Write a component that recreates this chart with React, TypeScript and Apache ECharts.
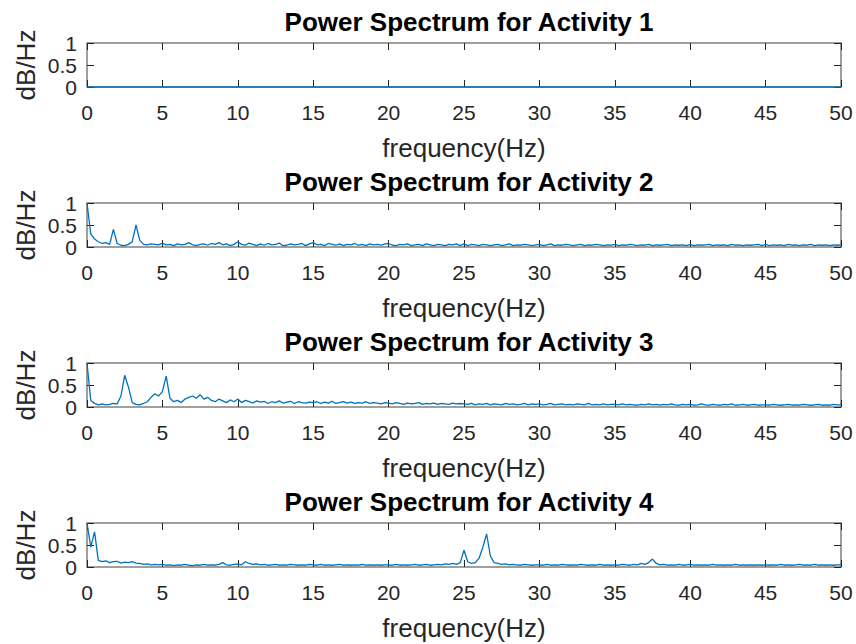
import React, { useEffect, useRef } from "react";
import * as echarts from "echarts";

const titles = [
  "Power Spectrum for Activity 1",
  "Power Spectrum for Activity 2",
  "Power Spectrum for Activity 3",
  "Power Spectrum for Activity 4",
];
const xTitle = "frequency(Hz)";
const yTitle = "dB/Hz";
const FREQ_STEP = 0.25;

const act1Freq = [0, 50];
const act1 = [0, 0];

const act2 = [
  1.0,0.30,0.18,0.12,0.08,0.10,0.06,0.40,0.08,0.04,0.03,0.06,0.12,0.50,0.15,0.06,0.05,0.07,0.06,0.05,
  0.09,0.05,0.06,0.03,0.07,0.05,0.06,0.10,0.05,0.03,0.06,0.07,0.04,0.08,0.06,0.10,0.05,0.07,0.03,0.06,
  0.12,0.06,0.04,0.09,0.06,0.03,0.07,0.04,0.08,0.05,0.06,0.09,0.03,0.04,0.07,0.05,0.06,0.08,0.03,0.07,
  0.10,0.05,0.06,0.03,0.08,0.06,0.04,0.07,0.03,0.06,0.05,0.08,0.04,0.06,0.03,0.07,0.05,0.06,0.04,0.07,
  0.08,0.04,0.03,0.06,0.05,0.07,0.03,0.05,0.06,0.03,0.07,0.05,0.03,0.06,0.05,0.03,0.06,0.05,0.07,0.03,
  0.07,0.03,0.06,0.05,0.03,0.06,0.05,0.03,0.05,0.06,0.03,0.05,0.07,0.03,0.05,0.04,0.06,0.05,0.03,0.05,
  0.06,0.03,0.05,0.07,0.03,0.05,0.04,0.06,0.05,0.03,0.05,0.06,0.03,0.05,0.04,0.06,0.05,0.03,0.05,0.04,
  0.06,0.03,0.05,0.04,0.06,0.05,0.03,0.05,0.04,0.06,0.03,0.05,0.04,0.05,0.06,0.03,0.05,0.04,0.05,0.03,
  0.06,0.03,0.05,0.04,0.05,0.06,0.03,0.05,0.04,0.05,0.03,0.06,0.04,0.05,0.03,0.05,0.04,0.05,0.06,0.03,
  0.06,0.03,0.05,0.04,0.05,0.03,0.06,0.04,0.05,0.03,0.05,0.04,0.06,0.03,0.05,0.04,0.05,0.03,0.05,0.04,
  0.05,
];

const act3 = [
  1.0,0.15,0.08,0.05,0.07,0.05,0.06,0.08,0.07,0.25,0.72,0.45,0.10,0.06,0.05,0.08,0.12,0.22,0.30,0.25,
  0.35,0.70,0.20,0.12,0.15,0.10,0.18,0.22,0.25,0.20,0.28,0.18,0.22,0.15,0.12,0.18,0.14,0.10,0.16,0.12,
  0.18,0.10,0.15,0.12,0.09,0.14,0.11,0.13,0.08,0.12,0.10,0.14,0.09,0.11,0.13,0.08,0.12,0.10,0.09,0.11,
  0.10,0.12,0.08,0.11,0.09,0.13,0.08,0.10,0.12,0.09,0.11,0.08,0.10,0.09,0.12,0.08,0.10,0.09,0.07,0.10,
  0.09,0.07,0.10,0.08,0.06,0.09,0.07,0.08,0.10,0.06,0.08,0.07,0.09,0.06,0.08,0.07,0.06,0.09,0.07,0.08,
  0.07,0.06,0.08,0.05,0.07,0.06,0.08,0.05,0.07,0.06,0.05,0.08,0.06,0.07,0.05,0.06,0.08,0.05,0.07,0.06,
  0.07,0.05,0.06,0.08,0.05,0.06,0.07,0.05,0.06,0.05,0.07,0.06,0.05,0.08,0.05,0.06,0.05,0.07,0.05,0.06,
  0.06,0.05,0.07,0.05,0.06,0.05,0.04,0.06,0.05,0.07,0.05,0.06,0.04,0.06,0.05,0.07,0.05,0.04,0.06,0.05,
  0.06,0.04,0.05,0.07,0.05,0.04,0.06,0.05,0.04,0.06,0.05,0.07,0.04,0.05,0.06,0.04,0.05,0.06,0.04,0.05,
  0.05,0.04,0.06,0.05,0.04,0.05,0.06,0.04,0.05,0.04,0.06,0.05,0.04,0.05,0.06,0.04,0.05,0.04,0.06,0.05,
  0.05,
];

const act4 = [
  1.0,0.45,0.80,0.15,0.12,0.14,0.10,0.12,0.13,0.09,0.11,0.10,0.12,0.09,0.08,0.06,0.07,0.05,0.06,0.05,
  0.06,0.04,0.05,0.03,0.05,0.04,0.06,0.04,0.03,0.05,0.04,0.06,0.04,0.05,0.04,0.06,0.10,0.05,0.04,0.06,
  0.07,0.05,0.12,0.08,0.06,0.07,0.05,0.06,0.04,0.05,0.06,0.04,0.05,0.04,0.06,0.05,0.04,0.05,0.04,0.06,
  0.05,0.04,0.06,0.04,0.05,0.04,0.05,0.06,0.04,0.05,0.04,0.05,0.04,0.06,0.04,0.05,0.04,0.05,0.04,0.05,
  0.05,0.04,0.06,0.04,0.05,0.04,0.05,0.06,0.04,0.05,0.06,0.04,0.05,0.06,0.05,0.07,0.06,0.08,0.06,0.10,
  0.38,0.12,0.08,0.10,0.20,0.45,0.75,0.25,0.10,0.08,0.06,0.07,0.05,0.06,0.05,0.04,0.06,0.05,0.04,0.05,
  0.05,0.04,0.06,0.04,0.05,0.04,0.06,0.05,0.04,0.05,0.04,0.06,0.05,0.04,0.05,0.04,0.06,0.04,0.05,0.04,
  0.05,0.04,0.06,0.05,0.04,0.06,0.05,0.08,0.06,0.10,0.18,0.08,0.05,0.06,0.04,0.05,0.04,0.06,0.04,0.05,
  0.06,0.04,0.05,0.04,0.05,0.04,0.06,0.04,0.05,0.04,0.05,0.04,0.06,0.04,0.05,0.04,0.05,0.04,0.05,0.04,
  0.05,0.04,0.05,0.04,0.06,0.04,0.05,0.04,0.05,0.06,0.04,0.05,0.04,0.06,0.04,0.05,0.04,0.05,0.04,0.05,
  0.05,
];

const FONT = "'Liberation Sans', Arial, Helvetica, sans-serif";
const TXT = "#262626";
const LINE = "#0072BD";

export default function App() {
  const ref = useRef<HTMLDivElement>(null);
  useEffect(() => {
    document.body.style.margin = "0";
    if (!ref.current) return;
    const chart = echarts.init(ref.current, null, { renderer: "svg" });

    const seriesData = [
      act1Freq.map((f, i) => [f, act1[i]]),
      act2.map((v, i) => [i * FREQ_STEP, v]),
      act3.map((v, i) => [i * FREQ_STEP, v]),
      act4.map((v, i) => [i * FREQ_STEP, v]),
    ];

    const left = 87;
    const right = 15;
    const gridTop0 = 43;
    const gridH = 44;
    const pitch = 160;
    const plotCx = left + (856 - left - right) / 2;

    const grids: any[] = [];
    const xAxes: any[] = [];
    const yAxes: any[] = [];
    const series: any[] = [];
    const titleArr: any[] = [];
    const graphics: any[] = [];

    const mkTick = () => ({ show: true, inside: true, length: 7, lineStyle: { color: TXT, width: 1 } });
    const noLine = () => ({ show: false, onZero: false });

    for (let i = 0; i < 4; i++) {
      const top = gridTop0 + pitch * i;
      grids.push({
        left,
        right,
        top,
        height: gridH,
        show: true,
        borderColor: "#808080",
        borderWidth: 1.5,
        backgroundColor: "transparent",
      });
      xAxes.push({
        type: "value",
        gridIndex: i,
        position: "bottom",
        min: 0,
        max: 50,
        interval: 5,
        axisLine: noLine(),
        axisTick: mkTick(),
        splitLine: { show: false },
        axisLabel: { color: TXT, fontSize: 21, fontFamily: FONT, margin: 15 },
      });
      xAxes.push({
        type: "value",
        gridIndex: i,
        position: "top",
        min: 0,
        max: 50,
        interval: 5,
        axisLine: noLine(),
        axisTick: mkTick(),
        splitLine: { show: false },
        axisLabel: { show: false },
      });
      yAxes.push({
        type: "value",
        gridIndex: i,
        position: "left",
        min: 0,
        max: 1,
        interval: 0.5,
        axisLine: noLine(),
        axisTick: mkTick(),
        splitLine: { show: false },
        axisLabel: { color: TXT, fontSize: 21, fontFamily: FONT, margin: 10 },
      });
      yAxes.push({
        type: "value",
        gridIndex: i,
        position: "right",
        min: 0,
        max: 1,
        interval: 0.5,
        axisLine: noLine(),
        axisTick: mkTick(),
        splitLine: { show: false },
        axisLabel: { show: false },
      });
      series.push({
        type: "line",
        xAxisIndex: i * 2,
        yAxisIndex: i * 2,
        data: seriesData[i],
        showSymbol: false,
        symbol: "none",
        clip: false,
        lineStyle: { color: LINE, width: 1.3 },
        z: 5,
      });
      titleArr.push({
        text: titles[i],
        left: plotCx,
        top: top - 39,
        textAlign: "center",
        textStyle: { color: "#000", fontSize: 26, fontWeight: "bold", fontFamily: FONT },
      });
      graphics.push({
        type: "text",
        x: plotCx,
        y: top + 105,
        style: {
          text: xTitle,
          fill: TXT,
          font: `26px ${FONT}`,
          textAlign: "center",
          textVerticalAlign: "middle",
        },
      });
      graphics.push({
        type: "text",
        x: 26,
        y: top + gridH / 2,
        rotation: Math.PI / 2,
        style: {
          text: yTitle,
          fill: TXT,
          font: `26px ${FONT}`,
          textAlign: "center",
          textVerticalAlign: "middle",
        },
      });
    }

    chart.setOption({
      animation: false,
      backgroundColor: "#fff",
      title: titleArr,
      grid: grids,
      xAxis: xAxes,
      yAxis: yAxes,
      series,
      graphic: graphics,
    });
    return () => chart.dispose();
  }, []);

  return (
    <div
      ref={ref}
      style={{ position: "absolute", left: 0, top: 0, width: 856, height: 644 }}
    />
  );
}
